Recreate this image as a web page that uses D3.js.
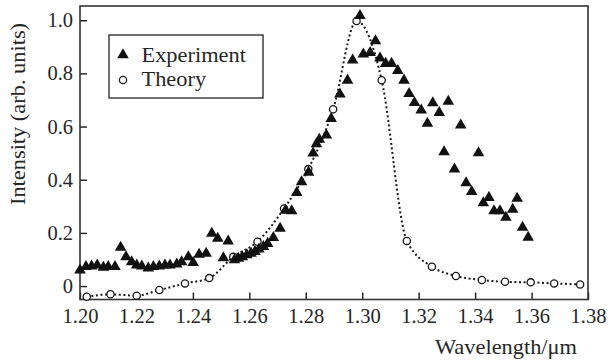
<!DOCTYPE html>
<html>
<head>
<meta charset="utf-8">
<script src="https://cdn.jsdelivr.net/npm/d3@7"></script>
<style>
  html, body { margin: 0; padding: 0; background: #fff; }
  svg { display: block; }
</style>
</head>
<body>
<div id="chart"></div>
<script>
// ---- data ----
const expWavelength = [
  1.2000, 1.2021, 1.2041, 1.2061, 1.2083, 1.2100, 1.2124, 1.2144, 1.2163, 1.2183,
  1.2201, 1.2219, 1.2242, 1.2260, 1.2281, 1.2301, 1.2319, 1.2343, 1.2360, 1.2384,
  1.2401, 1.2422, 1.2447, 1.2467, 1.2488, 1.2508, 1.2525, 1.2547, 1.2561, 1.2575,
  1.2591, 1.2606, 1.2620, 1.2634, 1.2650, 1.2665, 1.2685, 1.2709, 1.2728, 1.2750,
  1.2768, 1.2785, 1.2810, 1.2826, 1.2838, 1.2848, 1.2873, 1.2890, 1.2921, 1.2948,
  1.2966, 1.2992, 1.3004, 1.3028, 1.3047, 1.3063, 1.3083, 1.3104, 1.3126, 1.3148,
  1.3166, 1.3185, 1.3209, 1.3231, 1.3250, 1.3273, 1.3290, 1.3305, 1.3327, 1.3349,
  1.3368, 1.3388, 1.3412, 1.3429, 1.3449, 1.3467, 1.3488, 1.3509, 1.3533, 1.3549,
  1.3568, 1.3588
];
const expIntensity = [
  0.060, 0.073, 0.075, 0.079, 0.070, 0.073, 0.073, 0.145, 0.110, 0.091,
  0.079, 0.075, 0.067, 0.073, 0.075, 0.079, 0.079, 0.082, 0.091, 0.110,
  0.088, 0.119, 0.123, 0.198, 0.179, 0.106, 0.169, 0.098, 0.104, 0.110,
  0.117, 0.123, 0.129, 0.139, 0.148, 0.160, 0.182, 0.217, 0.285, 0.283,
  0.351, 0.392, 0.428, 0.500, 0.535, 0.552, 0.568, 0.630, 0.722, 0.774,
  0.850, 1.017, 0.872, 0.878, 0.922, 0.857, 0.837, 0.837, 0.810, 0.774,
  0.724, 0.690, 0.662, 0.612, 0.689, 0.652, 0.505, 0.695, 0.440, 0.605,
  0.388, 0.355, 0.501, 0.313, 0.333, 0.283, 0.283, 0.258, 0.288, 0.330,
  0.221, 0.183
];
const theoryWavelength = [
  1.2024, 1.2108, 1.2201, 1.2281, 1.2372, 1.2458, 1.2543, 1.2629, 1.2723, 1.2809,
  1.2897, 1.2980, 1.3069, 1.3158, 1.3247, 1.3332, 1.3424, 1.3506, 1.3597, 1.3680,
  1.3772
];
const theoryIntensity = [
  -0.040, -0.031, -0.036, -0.015, 0.010, 0.030, 0.110, 0.167, 0.292, 0.440,
  0.665, 0.997, 0.774, 0.170, 0.073, 0.038, 0.023, 0.016, 0.014, 0.010,
  0.006
];
const xTicks = [1.20, 1.22, 1.24, 1.26, 1.28, 1.30, 1.32, 1.34, 1.36, 1.38];
const yTicks = [0, 0.2, 0.4, 0.6, 0.8, 1.0];
const seriesNames = ["Experiment", "Theory"];
const xLabel = "Wavelength/\u03BCm";
const yLabel = "Intensity (arb. units)";

// ---- chart ----
const W = 610, H = 363;
const mLeft = 80, mRight = 588, mTop = 6, mBottom = 299.5;
const FONT = '"Liberation Serif", Times, serif';
const TICK_FS = 20.5, LAB_FS = 20, STRETCH = 1.12;
const ink = "#1a1a1a", txt = "#262626";

const svg = d3.select("#chart").append("svg")
  .attr("width", W).attr("height", H)
  .style("font-family", FONT);

const x = d3.scaleLinear().domain([1.20, 1.38]).range([mLeft, mRight]);
const y = d3.scaleLinear().domain([-0.0505, 1.0535]).range([mBottom, mTop]);

// axes
const xAxis = d3.axisBottom(x).tickValues(xTicks).tickFormat(d3.format(".2f"))
  .tickSizeInner(-7).tickSizeOuter(0).tickPadding(9);
const yAxis = d3.axisLeft(y).tickValues(yTicks)
  .tickFormat(d => d === 0 ? "0" : d3.format(".1f")(d))
  .tickSizeInner(-7).tickSizeOuter(0).tickPadding(7);

const gx = svg.append("g").attr("transform", `translate(0,${mBottom})`).call(xAxis);
const gy = svg.append("g").attr("transform", `translate(${mLeft},0)`).call(yAxis);
[gx, gy].forEach(g => {
  g.attr("font-family", FONT).attr("font-size", TICK_FS);
  g.select(".domain").remove();
  g.selectAll(".tick line").attr("stroke", ink).attr("stroke-width", 1.4);
  g.selectAll(".tick text")
    .style("font-family", FONT)
    .style("font-size", TICK_FS + "px")
    .attr("fill", txt);
});

// frame
svg.append("rect")
  .attr("x", mLeft).attr("y", mTop)
  .attr("width", mRight - mLeft).attr("height", mBottom - mTop)
  .attr("fill", "none").attr("stroke", "#333").attr("stroke-width", 1.6);

// theory dotted curve
const line = d3.line()
  .x((d, i) => x(theoryWavelength[i]))
  .y((d, i) => y(theoryIntensity[i]))
  .curve(d3.curveMonotoneX);
svg.append("path")
  .datum(theoryIntensity)
  .attr("d", line)
  .attr("fill", "none")
  .attr("stroke", ink)
  .attr("stroke-width", 2)
  .attr("stroke-dasharray", "2,2.6");

// theory circles
svg.append("g").selectAll("circle")
  .data(theoryIntensity)
  .join("circle")
  .attr("cx", (d, i) => x(theoryWavelength[i]))
  .attr("cy", d => y(d))
  .attr("r", 3.6)
  .attr("fill", "#fff")
  .attr("stroke", ink)
  .attr("stroke-width", 1.3);

// experiment triangles
const tri = d3.symbol().type(d3.symbolTriangle).size(58);
svg.append("g").selectAll("path")
  .data(expIntensity)
  .join("path")
  .attr("d", tri)
  .attr("transform", (d, i) => `translate(${x(expWavelength[i])},${y(d)})`)
  .attr("fill", "#111");

function label(g, transform, text, anchor) {
  return g.append("text")
    .attr("transform", transform)
    .attr("text-anchor", anchor || "start")
    .style("font-family", FONT)
    .style("font-size", LAB_FS + "px")
    .attr("fill", txt)
    .text(text);
}

// legend
const lg = svg.append("g");
lg.append("rect")
  .attr("x", 109).attr("y", 35).attr("width", 154).attr("height", 63)
  .attr("fill", "#fff").attr("stroke", "#333").attr("stroke-width", 1.4);
lg.append("path").attr("d", tri)
  .attr("transform", "translate(123,55)").attr("fill", "#111");
lg.append("circle").attr("cx", 123).attr("cy", 80).attr("r", 3.6)
  .attr("fill", "#fff").attr("stroke", ink).attr("stroke-width", 1.3);
label(lg, `translate(141.5,62) scale(${STRETCH},1)`, seriesNames[0]);
label(lg, `translate(141.5,86) scale(${STRETCH},1)`, seriesNames[1]);

// axis titles
label(svg, `translate(25,114) rotate(-90) scale(${STRETCH},1)`, yLabel, "middle");
label(svg, `translate(577,354) scale(${STRETCH},1)`, xLabel, "end");
</script>
</body>
</html>
